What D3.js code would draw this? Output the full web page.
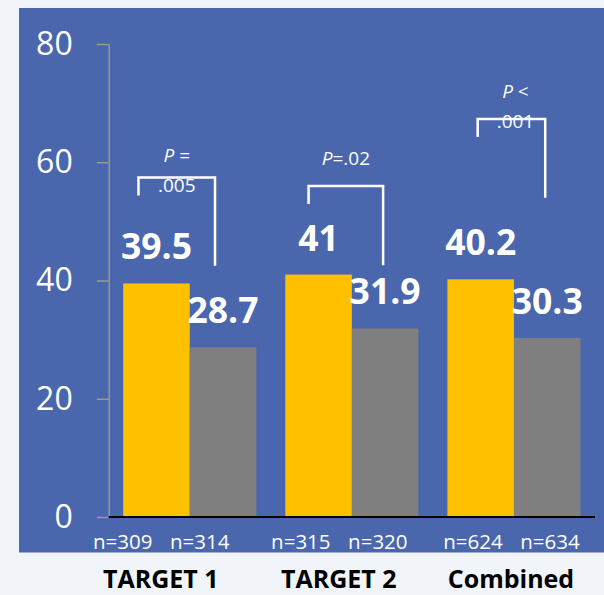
<!DOCTYPE html>
<html>
<head>
<meta charset="utf-8">
<script src="https://cdn.jsdelivr.net/npm/d3@7"></script>
<style>
  html, body { margin: 0; padding: 0; background: #F1F5F9; }
  svg { display: block; }
  text { font-family: "Open Sans", "Noto Sans", sans-serif; }
</style>
</head>
<body>
<svg id="chart" width="604" height="595"></svg>
<script>
// Trial groups and response rates (%)
const groups = ["TARGET 1", "TARGET 2", "Combined"];
const treatmentValues = [39.5, 41, 40.2];
const controlValues = [28.7, 31.9, 30.3];
const treatmentN = [309, 315, 624];
const controlN = [314, 320, 634];
const pOperators = ["=", "=", "<"];
const pValues = [".005", ".02", ".001"];
const yTicks = [0, 20, 40, 60, 80];

const W = 604, H = 595;
const svg = d3.select("#chart");

// panel background
svg.append("rect")
  .attr("x", 19).attr("y", 8)
  .attr("width", W - 19).attr("height", 544.5)
  .attr("fill", "#4A66AC");

const plotLeft = 108.7, plotRight = 595, plotTop = 44, plotBottom = 517;

const y = d3.scaleLinear().domain([0, 80]).range([plotBottom, plotTop]);
const x = d3.scaleBand().domain(groups).range([plotLeft, plotRight])
  .paddingInner(0.179).paddingOuter(0.0895);
const sub = d3.scaleBand().domain(["t", "c"]).range([0, x.bandwidth()]).padding(0);

const rows = groups.map((g, i) => ({
  g, i,
  t: treatmentValues[i], c: controlValues[i],
  nt: treatmentN[i], nc: controlN[i],
  op: pOperators[i], p: pValues[i]
}));

// y axis
const yAxis = svg.append("g")
  .attr("transform", `translate(${plotLeft},0)`)
  .call(d3.axisLeft(y).tickValues(yTicks).tickSize(12).tickSizeOuter(0).tickPadding(24));
yAxis.select(".domain").attr("stroke", "#A39F8E").attr("stroke-width", 1.3);
yAxis.selectAll(".tick line").attr("stroke", "#A39F8E").attr("stroke-width", 1.3);
yAxis.selectAll(".tick text")
  .attr("fill", "#FFFFFF")
  .attr("font-size", 32)
  .attr("font-family", "'Open Sans', sans-serif");

// bars
const bars = [];
rows.forEach(r => {
  bars.push({ g: r.g, key: "t", v: r.t, color: "#FFC000" });
  bars.push({ g: r.g, key: "c", v: r.c, color: "#7F7F7F" });
});
svg.append("g").selectAll("rect").data(bars).join("rect")
  .attr("x", d => x(d.g) + sub(d.key))
  .attr("y", d => y(d.v))
  .attr("width", sub.bandwidth())
  .attr("height", d => y(0) - y(d.v))
  .attr("fill", d => d.color);

// x baseline
svg.append("line")
  .attr("x1", plotLeft).attr("x2", plotRight)
  .attr("y1", y(0)).attr("y2", y(0))
  .attr("stroke", "#000").attr("stroke-width", 2);

// value labels
svg.append("g").selectAll("text").data(bars).join("text")
  .attr("x", d => x(d.g) + sub(d.key) + sub.bandwidth() / 2)
  .attr("y", d => y(d.v) - 24)
  .attr("text-anchor", "middle")
  .attr("fill", "#FFFFFF")
  .attr("font-size", 35.5)
  .attr("font-weight", "bold")
  .text(d => d.v);

// bottom labels sit slightly left of the group centres
const labelShift = [-29, -13, -3];
const cx = r => x(r.g) + x.bandwidth() / 2 + labelShift[r.i];

svg.append("g").selectAll("text").data(rows).join("text")
  .attr("x", r => cx(r) - 38).attr("y", 549)
  .attr("text-anchor", "middle").attr("fill", "#FFFFFF").attr("font-size", 20.5)
  .text(r => "n=" + r.nt);
svg.append("g").selectAll("text").data(rows).join("text")
  .attr("x", r => cx(r) + 39).attr("y", 549)
  .attr("text-anchor", "middle").attr("fill", "#FFFFFF").attr("font-size", 20.5)
  .text(r => "n=" + r.nc);

svg.append("g").selectAll("text").data(rows).join("text")
  .attr("x", r => cx(r)).attr("y", 588)
  .attr("text-anchor", "middle").attr("fill", "#000000")
  .attr("font-size", 25).attr("font-weight", "bold")
  .text(r => r.g);

// significance brackets
const bracket = [
  { top: 57.4, rightEnd: 42.5, lShift: -18, rShift: -8, split: true, dy1: -16, dy2: 14 },
  { top: 56.0, rightEnd: 42.6, lShift: -10, rShift: -2, split: false, dy1: -21 },
  { top: 67.3, rightEnd: 54.0, lShift: -3, rShift: -2, split: true, dy1: -21, dy2: 9 }
];
const bg = svg.append("g");
rows.forEach(r => {
  const b = bracket[r.i];
  const xl = x(r.g) + sub("t") + sub.bandwidth() / 2 + b.lShift;
  const xr = x(r.g) + sub("c") + sub.bandwidth() / 2 + b.rShift;
  const yt = y(b.top);
  bg.append("path")
    .attr("d", `M${xl},${yt + 18}V${yt}H${xr}V${y(b.rightEnd)}`)
    .attr("fill", "none").attr("stroke", "#FFFFFF").attr("stroke-width", 2.5);
  const mid = (xl + xr) / 2 + (r.i === 2 ? 4 : 0);
  const t1 = bg.append("text")
    .attr("x", mid).attr("y", yt + b.dy1)
    .attr("text-anchor", "middle").attr("fill", "#FFFFFF").attr("font-size", 19);
  t1.append("tspan").attr("font-style", "italic").text("P");
  if (b.split) {
    t1.append("tspan").text(" " + r.op);
    bg.append("text")
      .attr("x", mid).attr("y", yt + b.dy2)
      .attr("text-anchor", "middle").attr("fill", "#FFFFFF").attr("font-size", 19)
      .text(r.p);
  } else {
    t1.append("tspan").text(r.op + r.p);
  }
});
</script>
</body>
</html>
